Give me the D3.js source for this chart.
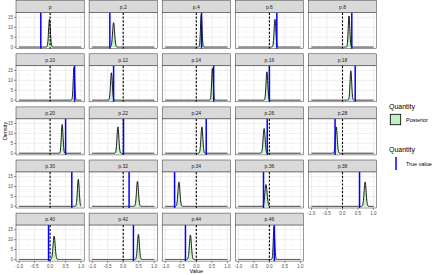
<!DOCTYPE html>
<html><head><meta charset="utf-8">
<script src="https://cdn.jsdelivr.net/npm/d3@7"></script>
<style>html,body{margin:0;padding:0;background:#fff;}svg{display:block;font-family:"Liberation Sans",Arial,sans-serif;}</style>
</head><body>
<svg id="chart" width="440" height="275"></svg>
<script>
// ---- data ----
const panels = ["p","p.2","p.4","p.6","p.8","p.10","p.12","p.14","p.16","p.18","p.20","p.22","p.24","p.26","p.28","p.30","p.32","p.34","p.36","p.38","p.40","p.42","p.44","p.46"];
const postMean = [-0.02,-0.31,0.16,0.18,0.21, 0.77,-0.38,0.52,-0.08,0.27, 0.39,-0.17,0.18,-0.17,-0.20, 0.91,0.46,-0.56,-0.11,0.73, 0.13,0.49,-0.19,0.15];
const postPeak = [14.0,12.3,16.5,14.0,15.7, 16.5,13.8,16.0,14.3,14.8, 14.5,13.3,13.3,12.5,13.3, 13.6,12.6,12.3,11.0,12.3, 11.8,12.6,12.3,16.5];
const trueValue = [-0.30,-0.43,0.17,0.24,0.30, 0.79,-0.31,0.56,0.00,0.41, 0.50,0.01,0.32,-0.07,-0.24, 0.70,0.19,-0.70,-0.19,0.55, -0.05,0.33,-0.35,0.16];
const xTicks = [-1.0,-0.5,0.0,0.5,1.0];
const xTickLabels = ["-1.0","-0.5","0.0","0.5","1.0"];
const yTicks = [0,5,10,15];
const legendLabels = ["Posterior","True value"];
const legendTitle = "Quantity";

// ---- layout ----
const svg = d3.select("#chart");
const nCol = 5, left0 = 16, pw = 68.2, gapX = 4.9;
const top0 = 0.7, stripH = 12, ph = 36, pitchY = 53.1;
const yMaxData = 16.5;

const x = d3.scaleLinear().domain([-1.1, 1.1]).range([0, pw]);
const y = d3.scaleLinear().domain([-0.05*yMaxData, 1.05*yMaxData]).range([ph, 0]);

const gridMajorX = xTicks, gridMinorX = [-0.75,-0.25,0.25,0.75];
const gridMajorY = yTicks, gridMinorY = [2.5,7.5,12.5];

const xs = d3.range(-1.0, 1.0001, 0.004);
function dens(m, peak, v){ const sd = 1/(peak*Math.sqrt(2*Math.PI)); return peak*Math.exp(-0.5*((v-m)/sd)**2); }

const n = panels.length;
panels.forEach((name, i) => {
  const c = i % nCol, r = Math.floor(i / nCol);
  const px = left0 + c*(pw+gapX);
  const sy = top0 + r*pitchY;
  const py = sy + stripH;
  const g = svg.append("g");
  // strip
  g.append("rect").attr("x", px).attr("y", sy).attr("width", pw).attr("height", stripH)
    .attr("fill", "#d9d9d9").attr("stroke", "#333").attr("stroke-width", 0.5);
  g.append("text").attr("x", px+pw/2).attr("y", sy+stripH/2+1.8).attr("text-anchor","middle")
    .attr("font-size", 5).attr("fill", "#1a1a1a").text(name);
  const pg = g.append("g").attr("transform", `translate(${px},${py})`);
  pg.append("rect").attr("width", pw).attr("height", ph).attr("fill", "#fff");
  gridMinorX.forEach(v => pg.append("line").attr("x1", x(v)).attr("x2", x(v)).attr("y1",0).attr("y2",ph).attr("stroke","#f0f0f0").attr("stroke-width",0.4));
  gridMinorY.forEach(v => pg.append("line").attr("y1", y(v)).attr("y2", y(v)).attr("x1",0).attr("x2",pw).attr("stroke","#f0f0f0").attr("stroke-width",0.4));
  gridMajorX.forEach(v => pg.append("line").attr("x1", x(v)).attr("x2", x(v)).attr("y1",0).attr("y2",ph).attr("stroke","#e6e6e6").attr("stroke-width",0.7));
  gridMajorY.forEach(v => pg.append("line").attr("y1", y(v)).attr("y2", y(v)).attr("x1",0).attr("x2",pw).attr("stroke","#e6e6e6").attr("stroke-width",0.7));
  const pts = xs.map(v => [v, dens(postMean[i], postPeak[i], v)]);
  pg.append("path").datum(pts)
    .attr("d", d3.area().x(d=>x(d[0])).y0(y(0)).y1(d=>y(d[1])))
    .attr("fill", "#90ee90").attr("fill-opacity", 0.5);
  pg.append("path").datum(pts)
    .attr("d", d3.line().x(d=>x(d[0])).y(d=>y(d[1])))
    .attr("fill", "none").attr("stroke", "#000").attr("stroke-width", 0.9);
  pg.append("line").attr("x1", x(0)).attr("x2", x(0)).attr("y1", 0).attr("y2", ph)
    .attr("stroke", "#000").attr("stroke-width", 1.1).attr("stroke-dasharray", "2.2,1.6");
  pg.append("line").attr("x1", x(trueValue[i])).attr("x2", x(trueValue[i])).attr("y1", 0).attr("y2", ph)
    .attr("stroke", "#0000ff").attr("stroke-width", 1.5);
  pg.append("rect").attr("width", pw).attr("height", ph).attr("fill", "none").attr("stroke", "#333").attr("stroke-width", 0.5);

  // y axis on first column
  if (c === 0) {
    yTicks.forEach(v => {
      pg.append("line").attr("x1", -2).attr("x2", 0).attr("y1", y(v)).attr("y2", y(v)).attr("stroke", "#333").attr("stroke-width", 0.5);
      pg.append("text").attr("x", -3).attr("y", y(v)+1.6).attr("text-anchor", "end").attr("font-size", 4.5).attr("fill", "#4d4d4d").text(v);
    });
  }
  // x axis on bottom panel of each column
  if (i + nCol >= n) {
    xTicks.forEach((v, k) => {
      pg.append("line").attr("x1", x(v)).attr("x2", x(v)).attr("y1", ph).attr("y2", ph+2).attr("stroke", "#333").attr("stroke-width", 0.5);
      pg.append("text").attr("x", x(v)).attr("y", ph+6.6).attr("text-anchor", "middle").attr("font-size", 4.5).attr("fill", "#4d4d4d").text(xTickLabels[k]);
    });
  }
});

// axis titles
const plotRight = left0 + nCol*pw + (nCol-1)*gapX;
svg.append("text").attr("x", (left0+plotRight)/2).attr("y", 273).attr("text-anchor","middle").attr("font-size", 5.5).attr("fill","#000").text("Value");
svg.append("text").attr("transform", `translate(6.5,${top0 + (5*pitchY - 5)/2}) rotate(-90)`).attr("text-anchor","middle").attr("font-size", 5.5).attr("fill","#000").text("Density");

// legends
const lx = 389;
svg.append("text").attr("x", lx).attr("y", 109).attr("font-size", 7).attr("fill","#000").text(legendTitle);
svg.append("rect").attr("x", lx+0.5).attr("y", 113.5).attr("width", 12).attr("height", 12).attr("fill","#f2f2f2").attr("stroke","none");
svg.append("rect").attr("x", lx+1.3).attr("y", 114.3).attr("width", 10.4).attr("height", 10.4).attr("fill","#90ee90").attr("fill-opacity",0.5).attr("stroke","#000").attr("stroke-width",0.8);
svg.append("text").attr("x", lx+17).attr("y", 121.5).attr("font-size", 5.5).attr("fill","#000").text(legendLabels[0]);

svg.append("text").attr("x", lx).attr("y", 152).attr("font-size", 7).attr("fill","#000").text(legendTitle);
svg.append("line").attr("x1", lx+7).attr("x2", lx+7).attr("y1", 157).attr("y2", 170).attr("stroke","#0000ff").attr("stroke-width",1.5);
svg.append("text").attr("x", lx+17).attr("y", 165.5).attr("font-size", 5.5).attr("fill","#000").text(legendLabels[1]);
</script>
</body></html>
